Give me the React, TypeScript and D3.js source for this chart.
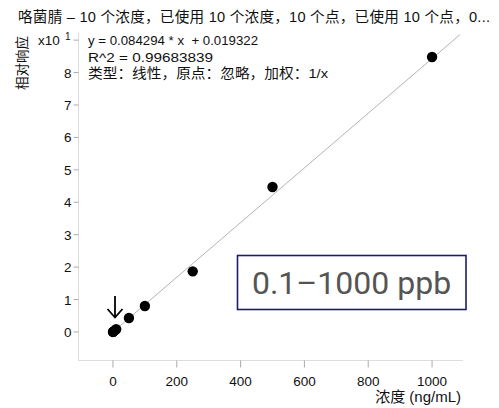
import React from "react";
import * as d3 from "d3";

const title = "咯菌腈 – 10 个浓度，已使用 10 个浓度，10 个点，已使用 10 个点，0...";
const concentrations = [0.1, 0.5, 1, 5, 10, 50, 100, 250, 500, 1000];
const responses = [0.0085, 0.043, 0.085, 0.42, 0.85, 4.3, 8.0, 18.7, 44.7, 84.8];
const slope = 0.084294;
const intercept = 0.019322;
const xTicks = [0, 200, 400, 600, 800, 1000];
const yTicks = [0, 1, 2, 3, 4, 5, 6, 7, 8];
const equationLines = [
  "y = 0.084294 * x  + 0.019322",
  "R^2 = 0.99683839",
  "类型：线性，原点：忽略，加权：1/x",
];
const equationWidths = [170, 125, 240];
const rangeLabel = "0.1–1000 ppb";

const W = 499;
const H = 408;
const FONT = "'Liberation Sans', 'Noto Sans CJK SC', sans-serif";

export default function App() {
  const left = 78.5;
  const right = 463;
  const top = 33;
  const bottom = 360.5;
  const x = d3.scaleLinear().domain([-108, 1097]).range([left, right]);
  const y = d3.scaleLinear().domain([-0.88, 9.22]).range([bottom, top]);
  const scale = 10;
  const line = d3
    .line<number>()
    .x((d) => x(d))
    .y((d) => y((slope * d + intercept) / scale));
  const lineXs = [0, 1088];

  return (
    <svg
      width={W}
      height={H}
      style={{ position: "absolute", left: 0, top: 0, background: "#fff" }}
      fontFamily={FONT}
    >
      <text
        x={18}
        y={22}
        fontSize={14.6}
        fill="#111"
        textLength={472}
        lengthAdjust="spacing"
        style={{ whiteSpace: "pre" }}
      >
        {title}
      </text>
      <text
        transform={`translate(27,63) rotate(-90)`}
        textAnchor="middle"
        fontSize={13.5}
        fill="#111"
      >
        相对响应
      </text>
      {/* axes */}
      <line x1={left} x2={left} y1={top} y2={bottom} stroke="#ddd" strokeWidth={1} />
      <line x1={left} x2={right} y1={bottom} y2={bottom} stroke="#ddd" strokeWidth={1} />
      {yTicks.map((t) => (
        <g key={"y" + t}>
          <line x1={left - 5} x2={left} y1={y(t)} y2={y(t)} stroke="#aaa" />
          <text x={left - 7} y={y(t) + 5} textAnchor="end" fontSize={13.5} fill="#111">
            {t}
          </text>
        </g>
      ))}
      <line x1={left - 5} x2={left} y1={y(9)} y2={y(9)} stroke="#aaa" />
      <text x={38} y={y(9) + 5} fontSize={13.5} fill="#111">
        x10
      </text>
      <text x={65} y={y(9) + 0} fontSize={10} fill="#111">
        1
      </text>
      {xTicks.map((t) => (
        <g key={"x" + t}>
          <line x1={x(t)} x2={x(t)} y1={bottom} y2={bottom + 7} stroke="#aaa" />
          <text x={x(t)} y={386} textAnchor="middle" fontSize={13.5} fill="#111">
            {t}
          </text>
        </g>
      ))}
      <text
        x={461}
        y={402}
        textAnchor="end"
        fontSize={15}
        fill="#111"
      >
        浓度 (ng/mL)
      </text>
      {/* regression line */}
      <path d={line(lineXs) || ""} fill="none" stroke="#aaa" strokeWidth={0.9} />
      {/* points */}
      {concentrations.map((c, i) => (
        <circle key={"p" + i} cx={x(c)} cy={y(responses[i] / scale)} r={5.2} fill="#000" />
      ))}
      {/* arrow */}
      <g stroke="#000" strokeWidth={1.8} fill="none">
        <line x1={115} x2={115} y1={296} y2={317} />
        <polyline points="107.5,309 115,317.5 122.5,309" />
      </g>
      {/* equation */}
      {equationLines.map((s, i) => (
        <text
          key={"e" + i}
          x={88}
          y={45 + i * 16.5}
          fontSize={13.2}
          fill="#111"
          textLength={equationWidths[i]}
          lengthAdjust="spacingAndGlyphs"
          style={{ whiteSpace: "pre" }}
        >
          {s}
        </text>
      ))}
      {/* range box */}
      <rect x={237.5} y={255.5} width={228.5} height={54} fill="#fff" stroke="#1c1c6b" strokeWidth={1.6} />
      <text
        x={351.5}
        y={294}
        textAnchor="middle"
        fontSize={32}
        fill="#555"
        fontFamily="Roboto, sans-serif"
      >
        {rangeLabel}
      </text>
    </svg>
  );
}
